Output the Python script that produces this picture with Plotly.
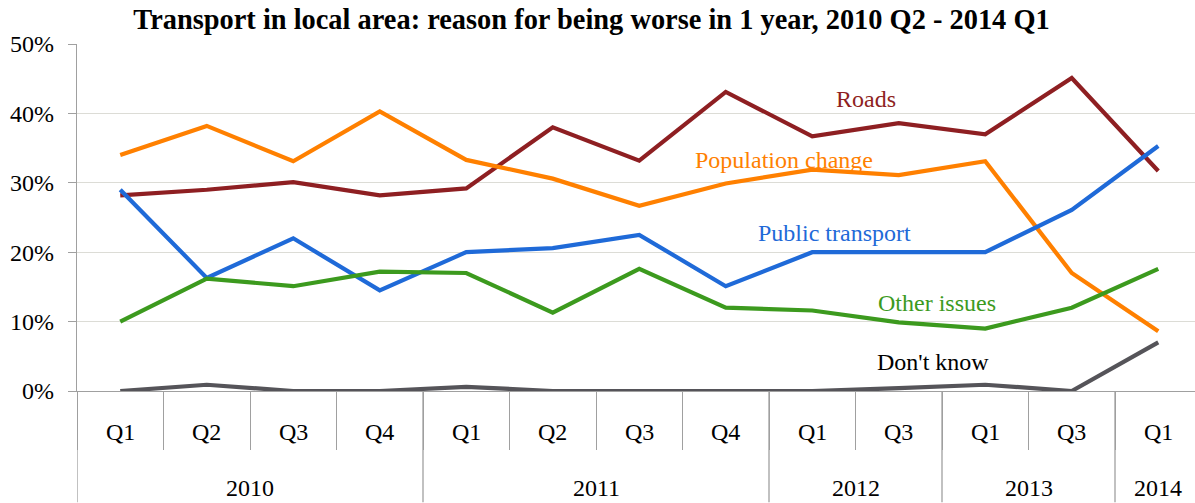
import plotly.graph_objects as go

years = ["2010", "2010", "2010", "2010", "2011", "2011", "2011", "2011",
         "2012", "2012", "2013", "2013", "2014"]
quarters = ["Q1", "Q2", "Q3", "Q4", "Q1", "Q2", "Q3", "Q4",
            "Q1", "Q3", "Q1", "Q3", "Q1"]

roads = [28.2, 29.0, 30.1, 28.2, 29.2, 38.0, 33.2, 43.1, 36.7, 38.6, 37.0, 45.1, 31.7]
population = [34.0, 38.2, 33.1, 40.3, 33.3, 30.6, 26.7, 29.9, 31.9, 31.1, 33.1, 17.0, 8.6]
public = [29.0, 16.3, 22.0, 14.5, 20.0, 20.6, 22.5, 15.1, 20.0, 20.0, 20.0, 26.1, 35.3]
other = [10.0, 16.2, 15.1, 17.2, 17.0, 11.3, 17.6, 12.0, 11.6, 9.9, 9.0, 12.0, 17.6]
dont_know = [0.0, 0.9, 0.0, 0.0, 0.6, 0.0, 0.0, 0.0, 0.0, 0.4, 0.9, 0.0, 7.0]

series = [
    ("Roads", roads, "#8E1F22"),
    ("Population change", population, "#FF8000"),
    ("Public transport", public, "#1F6AD8"),
    ("Other issues", other, "#3C9A1E"),
    ("Don't know", dont_know, "#555459"),
]

# in-chart series labels: (text, x in category units, y in %, colour)
series_labels = [
    ("Roads", 8.62, 42.1, "#8E1F22"),
    ("Population change", 7.67, 33.3, "#FF8000"),
    ("Public transport", 8.26, 22.8, "#1F6AD8"),
    ("Other issues", 9.44, 12.7, "#3C9A1E"),
    ("Don't know", 9.40, 4.2, "#000000"),
]

FONT = "Liberation Serif"
AXIS = "#A0A0A0"
W, H = 1195, 503
ML, MR, MT, MB = 77, 0, 44, 111.5
plot_h = H - MT - MB

n = len(quarters)
xs = list(range(n))

fig = go.Figure()
for name, vals, color in series:
    fig.add_trace(go.Scatter(
        x=xs, y=[v / 100 for v in vals], mode="lines", name=name,
        line=dict(color=color, width=4.2), showlegend=False, cliponaxis=False,
    ))

for text, lx, ly, color in series_labels:
    fig.add_annotation(
        x=lx, y=ly / 100, xref="x", yref="y", text=text, showarrow=False,
        font=dict(family=FONT, size=24, color=color),
        xanchor="center", yanchor="middle",
    )

# quarter labels
for i, q in enumerate(quarters):
    fig.add_annotation(
        x=i, y=0, xref="x", yref="paper", text=q, showarrow=False,
        font=dict(family=FONT, size=24, color="black"),
        xanchor="center", yanchor="middle", yshift=-41,
    )

# year groups
groups = []
start = 0
for i in range(1, n + 1):
    if i == n or years[i] != years[start]:
        groups.append((years[start], start, i - 1))
        start = i
bottom = -MB / plot_h
for yr, a, b in groups:
    fig.add_annotation(
        x=(a + b) / 2, y=0, xref="x", yref="paper", text=yr, showarrow=False,
        font=dict(family=FONT, size=24, color="black"),
        xanchor="center", yanchor="middle", yshift=-97,
    )
    fig.add_shape(type="line", xref="x", yref="paper",
                  x0=a - 0.5, x1=a - 0.5, y0=0, y1=bottom,
                  line=dict(color=AXIS, width=1.3))

fig.update_layout(
    width=W, height=H,
    margin=dict(l=ML, r=MR, t=MT, b=MB, pad=0, autoexpand=False),
    paper_bgcolor="white", plot_bgcolor="white",
    title=dict(text="<b>Transport in local area: reason for being worse in 1 year, 2010 Q2 - 2014 Q1</b>",
               x=591.5 / W, xanchor="center", y=1 - 19.5 / H, yanchor="middle",
               font=dict(family=FONT, size=28.4, color="black"),
               automargin=False),
    font=dict(family=FONT, size=24, color="black"),
)
fig.update_yaxes(
    range=[0, 0.5], tickformat=".0%", tickvals=[0, 0.1, 0.2, 0.3, 0.4, 0.5],
    showgrid=True, gridcolor="#DCDCD6", gridwidth=1.3,
    showline=True, linecolor=AXIS, linewidth=1.3,
    ticks="outside", ticklen=8, tickcolor=AXIS, tickwidth=1.3,
    zeroline=False, tickfont=dict(family=FONT, size=24), ticklabelstandoff=9,
    automargin=False,
)
fig.update_xaxes(
    range=[-0.5, -0.5 + (W - ML) / 86.5],
    tickvals=[i - 0.5 for i in range(n + 1)], showticklabels=False,
    showline=True, linecolor=AXIS, linewidth=1.3,
    ticks="outside", ticklen=58, tickcolor=AXIS, tickwidth=1.3,
    showgrid=False, zeroline=False, automargin=False,
)

fig.write_html("out.html",
               config={"displayModeBar": False},
               post_script="document.body.style.margin='0';document.body.style.overflow='hidden';")
